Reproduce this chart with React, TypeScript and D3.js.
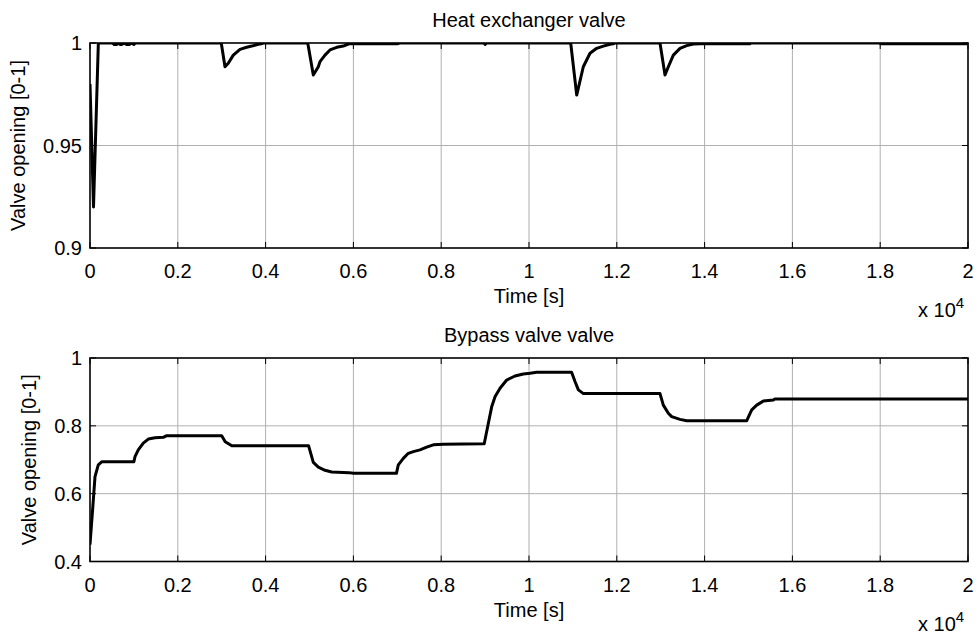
import React from "react";
import * as d3 from "d3";

const xTicks = [0, 2000, 4000, 6000, 8000, 10000, 12000, 14000, 16000, 18000, 20000];
const xTickLabels = ["0", "0.2", "0.4", "0.6", "0.8", "1", "1.2", "1.4", "1.6", "1.8", "2"];

const topTitle = "Heat exchanger valve";
const topYTicks = [0.9, 0.95, 1];
const topYTickLabels = ["0.9", "0.95", "1"];
const topTime = [0, 80, 190, 520, 545, 610, 640, 690, 720, 800, 830, 900, 930, 1000, 1030,
  2990, 3075, 3150, 3264, 3417, 3569, 3683, 3834, 3900, 3950,
  4960, 5087, 5201, 5239, 5353, 5467, 5620, 5770, 5900, 7000, 7050,
  8980, 9000, 9030,
  10950, 11087, 11237, 11390, 11542, 11693, 11845, 11920, 11960,
  12984, 13098, 13174, 13288, 13440, 13592, 13743, 13900, 15030, 15060,
  17980, 18010, 20000];
const topValue = [0.98, 0.92, 1, 1, 0.9993, 0.9993, 1, 0.9993, 0.9993, 1, 0.9993, 0.9993, 1, 0.9993, 1,
  1, 0.9884, 0.9901, 0.9941, 0.9969, 0.9979, 0.9985, 0.9994, 0.9996, 1,
  1, 0.9844, 0.9884, 0.9909, 0.9941, 0.9966, 0.9979, 0.9985, 0.9996, 0.9996, 1,
  1, 0.9993, 1,
  1, 0.9746, 0.9884, 0.995, 0.9974, 0.9985, 0.9994, 0.9996, 1,
  1, 0.9844, 0.9884, 0.9941, 0.9974, 0.9987, 0.9995, 0.9996, 0.9996, 1,
  1, 0.9996, 0.9996];

const botTitle = "Bypass valve valve";
const botYTicks = [0.4, 0.6, 0.8, 1];
const botYTickLabels = ["0.4", "0.6", "0.8", "1"];
const botTime = [0, 75, 114, 189, 267, 1000, 1025, 1100, 1214, 1328, 1481, 1670, 1747, 3000, 3080, 3230, 4980,
  5087, 5201, 5353, 5506, 5900, 6000, 6980,
  7023, 7137, 7251, 7365, 7517, 7669, 7820, 8048, 8980,
  9073, 9150, 9226, 9340, 9492, 9681, 9870, 10023, 10175, 10970,
  11050, 11125, 11240, 12984,
  13060, 13174, 13250, 13440, 13592, 14960,
  15073, 15187, 15338, 15565, 15600, 20000];
const botValue = [0.45, 0.58, 0.65, 0.685, 0.694, 0.694, 0.709, 0.729, 0.749, 0.761, 0.765, 0.766, 0.771, 0.771, 0.753, 0.741, 0.741,
  0.692, 0.678, 0.669, 0.664, 0.662, 0.66, 0.66,
  0.685, 0.704, 0.719, 0.724, 0.729, 0.737, 0.744, 0.746, 0.747,
  0.807, 0.856, 0.886, 0.911, 0.935, 0.947, 0.953, 0.955, 0.958, 0.958,
  0.93, 0.906, 0.895, 0.895,
  0.861, 0.837, 0.827, 0.819, 0.815, 0.815,
  0.847, 0.861, 0.873, 0.876, 0.879, 0.879];

const FONT = "'Liberation Sans', Arial, sans-serif";

type PanelProps = {
  id: string;
  title: string;
  time: number[];
  value: number[];
  yDomain: [number, number];
  yTicks: number[];
  yTickLabels: string[];
  top: number;
  bottom: number;
  ylabelX: number;
};

function Panel(p: PanelProps) {
  const left = 90, right = 968;
  const x = d3.scaleLinear().domain([0, 20000]).range([left, right]);
  const y = d3.scaleLinear().domain(p.yDomain).range([p.bottom, p.top]);
  const pts: [number, number][] = p.time.map((t, i) => [t, p.value[i]]);
  const line = d3.line<[number, number]>().x((d) => x(d[0])).y((d) => y(d[1]));
  const tl = 6;
  return (
    <g>
      <defs>
        <clipPath id={p.id}>
          <rect x={left} y={p.top} width={right - left} height={p.bottom - p.top} />
        </clipPath>
      </defs>
      {/* grid */}
      {xTicks.slice(1, -1).map((t) => (
        <line key={"gx" + t} x1={x(t)} x2={x(t)} y1={p.top} y2={p.bottom} stroke="#b0b0b0" strokeWidth={1} />
      ))}
      {p.yTicks.slice(1, -1).map((t) => (
        <line key={"gy" + t} x1={left} x2={right} y1={y(t)} y2={y(t)} stroke="#b0b0b0" strokeWidth={1} />
      ))}
      {/* data */}
      <path d={line(pts) || ""} fill="none" stroke="#000" strokeWidth={3} strokeLinejoin="round" clipPath={`url(#${p.id})`} />
      {/* box */}
      <rect x={left} y={p.top} width={right - left} height={p.bottom - p.top} fill="none" stroke="#000" strokeWidth={1.6} />
      {/* ticks */}
      {xTicks.map((t) => (
        <g key={"tx" + t}>
          <line x1={x(t)} x2={x(t)} y1={p.bottom} y2={p.bottom - tl} stroke="#000" strokeWidth={1} />
          <line x1={x(t)} x2={x(t)} y1={p.top} y2={p.top + tl} stroke="#000" strokeWidth={1} />
        </g>
      ))}
      {p.yTicks.map((t) => (
        <g key={"ty" + t}>
          <line x1={left} x2={left + tl} y1={y(t)} y2={y(t)} stroke="#000" strokeWidth={1} />
          <line x1={right} x2={right - tl} y1={y(t)} y2={y(t)} stroke="#000" strokeWidth={1} />
        </g>
      ))}
      {/* tick labels */}
      {xTicks.map((t, i) => (
        <text key={"lx" + t} x={x(t)} y={p.bottom + 30} textAnchor="middle" fontSize={20} fontFamily={FONT} fill="#000">
          {xTickLabels[i]}
        </text>
      ))}
      {p.yTicks.map((t, i) => (
        <text key={"ly" + t} x={82} y={y(t) + 7} textAnchor="end" fontSize={20} fontFamily={FONT} fill="#000">
          {p.yTickLabels[i]}
        </text>
      ))}
      {/* labels */}
      <text x={(left + right) / 2} y={p.top - 16} textAnchor="middle" fontSize={20} fontFamily={FONT} fill="#000">
        {p.title}
      </text>
      <text x={(left + right) / 2} y={p.bottom + 55} textAnchor="middle" fontSize={20} fontFamily={FONT} fill="#000">
        Time [s]
      </text>
      <text x={918} y={p.bottom + 69} fontSize={20} fontFamily={FONT} fill="#000">
        x 10
        <tspan dy={-9} fontSize={15}>4</tspan>
      </text>
      <text
        transform={`translate(${p.ylabelX},${(p.top + p.bottom) / 2}) rotate(-90)`}
        textAnchor="middle"
        fontSize={20}
        fontFamily={FONT}
        fill="#000"
      >
        Valve opening [0-1]
      </text>
    </g>
  );
}

export default function App() {
  return (
    <svg width={978} height={634} style={{ position: "absolute", left: 0, top: 0, background: "#fff" }}>
      <rect width={978} height={634} fill="#fff" />
      <Panel id="c1" title={topTitle} time={topTime} value={topValue} yDomain={[0.9, 1]} yTicks={topYTicks}
        yTickLabels={topYTickLabels} top={43} bottom={248} ylabelX={25} />
      <Panel id="c2" title={botTitle} time={botTime} value={botValue} yDomain={[0.4, 1]} yTicks={botYTicks}
        yTickLabels={botYTickLabels} top={358} bottom={561.5} ylabelX={36} />
    </svg>
  );
}
